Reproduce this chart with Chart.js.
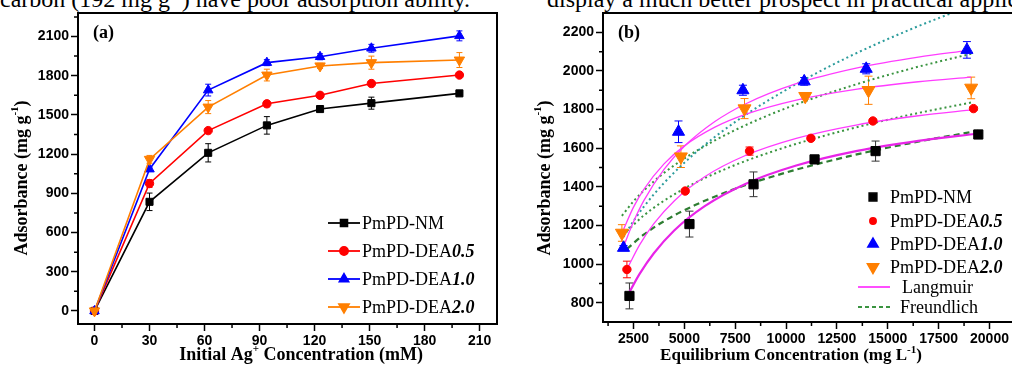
<!DOCTYPE html>
<html>
<head>
<meta charset="utf-8">
<script src="https://cdn.jsdelivr.net/npm/chart.js@4.4.0/dist/chart.umd.min.js"></script>
<style>
html, body { margin: 0; padding: 0; background: #fff; }
body { width: 1012px; height: 367px; overflow: hidden; position: relative; }
.cap { position: absolute; top: -13px; font: 24px "Liberation Serif", serif; line-height: 24px; white-space: nowrap; color: #000; }
.cap sup { font-size: 14px; line-height: 0; }
#wa { position: absolute; left: 0; top: 0; width: 505px; height: 367px; }
#wb { position: absolute; left: 505px; top: 0; width: 540px; height: 367px; }
</style>
</head>
<body>
<div class="cap" style="left:0">carbon (192 mg g<sup>-1</sup>) have poor adsorption ability.</div>
<div class="cap" style="left:547px">display a much better prospect in practical applications.</div>
<div id="wa"><canvas id="chartA" width="505" height="367"></canvas></div>
<div id="wb"><canvas id="chartB" width="540" height="367"></canvas></div>

<script>
// ---- (a) uptake vs initial Ag+ concentration ----
const concA = [0, 30, 62, 94, 123, 151, 199];
const nmA = [0, 835, 1210, 1420, 1545, 1590, 1665];
const dea05A = [0, 975, 1380, 1585, 1650, 1740, 1805];
const dea10A = [0, 1085, 1690, 1900, 1945, 2010, 2105];
const dea20A = [0, 1160, 1560, 1805, 1875, 1900, 1920];
const nmErrA = [0, 67, 70, 67, 15, 46, 10];
const dea05ErrA = [0, 30, 10, 23, 10, 10, 10];
const dea10ErrA = [0, 15, 45, 23, 23, 30, 38];
const dea20ErrA = [0, 30, 50, 45, 20, 50, 57];
const ticksAx = [0, 30, 60, 90, 120, 150, 180, 210];
const ticksAy = [0, 300, 600, 900, 1200, 1500, 1800, 2100];

// ---- (b) isotherms: equilibrium concentration vs uptake ----
const nmCB = [2300, 5250, 8400, 11400, 14400, 19450];
const nmB = [835, 1207, 1413, 1542, 1585, 1671];
const nmErrB = [67, 67, 64, 10, 52, 8];
const dea05CB = [2176, 5041, 8203, 11221, 14269, 19214];
const dea05B = [972, 1378, 1585, 1651, 1741, 1805];
const dea05ErrB = [43, 8, 21, 8, 8, 8];
const dea10CB = [2008, 4712, 7878, 10892, 13940, 18890];
const dea10B = [1084, 1685, 1900, 1946, 2011, 2109];
const dea10ErrB = [12, 56, 26, 20, 26, 43];
const dea20CB = [1930, 4830, 7957, 10941, 14053, 19100];
const dea20B = [1161, 1556, 1805, 1869, 1900, 1912];
const dea20ErrB = [43, 56, 52, 15, 73, 56];

// fitted curves, [C, q]
const langNM = [[2300,855],[2800,949],[3500,1056],[4500,1174],[6000,1300],[8000,1415],[10500,1510],[13500,1586],[16500,1638],[19450,1676]];
const langD05 = [[2250,988],[2800,1099],[3500,1209],[4500,1327],[6000,1452],[8000,1562],[10500,1651],[13500,1721],[16500,1768],[19250,1800]];
const langD10 = [[2000,1088],[2500,1219],[3000,1327],[4000,1490],[5000,1610],[6500,1738],[8000,1829],[10500,1934],[13500,2016],[16500,2072],[18900,2105]];
const langD20 = [[1930,1160],[2500,1295],[3000,1386],[4000,1519],[5000,1612],[6500,1709],[8000,1775],[10500,1849],[13500,1906],[16500,1944],[19100,1968]];
const freuNM = [[2174,1078],[3000,1152],[4000,1222],[5500,1304],[7500,1390],[10000,1474],[13000,1556],[16000,1624],[19450,1690]];
const freuD05 = [[2176,1171],[3000,1251],[4000,1328],[5500,1419],[7500,1513],[10000,1606],[13000,1696],[16000,1771],[19214,1839]];
const freuD10 = [[2008,1140],[2500,1223],[3000,1296],[4000,1420],[5500,1572],[7500,1736],[10000,1902],[13000,2069],[16000,2210],[19000,2335]];
const freuD20 = [[1930,1250],[2500,1325],[3000,1380],[4000,1472],[5500,1580],[7500,1694],[10000,1807],[13000,1916],[16000,2008],[19100,2089]];

const ticksBx = [2500, 5000, 7500, 10000, 12500, 15000, 17500, 20000];
const ticksBy = [800, 1000, 1200, 1400, 1600, 1800, 2000, 2200];

const seriesNames = ['PmPD-NM', 'PmPD-DEA', 'PmPD-DEA', 'PmPD-DEA'];
const seriesSuffix = ['', '0.5', '1.0', '2.0'];

const BLACK = '#000000', RED = '#ff0000', BLUE = '#0000ff', ORANGE = '#ff7f00';
const MAGENTA = '#ff3cff', GREEN = '#3a9440', TEAL = '#2c9c9c', DGREEN = '#2e7d32';
const SERIF = '"Liberation Serif", "Times New Roman", serif';
const SANS = '"Liberation Sans", Arial, sans-serif';
const tickFont = { family: SANS, size: 14, weight: 'bold' };

Chart.defaults.animation = false;

function pts(xs, ys) { return xs.map((x, i) => ({ x: x, y: ys[i] })); }
function pairs(arr) { return arr.map(p => ({ x: p[0], y: p[1] })); }

function drawParts(ctx, parts, x, y, align) {
  let total = 0;
  parts.forEach(p => { ctx.font = p.font; total += ctx.measureText(p.t).width; });
  let cx = align === 'center' ? x - total / 2 : x;
  ctx.textAlign = 'left';
  parts.forEach(p => {
    ctx.font = p.font;
    ctx.fillText(p.t, cx, y + (p.dy || 0));
    cx += ctx.measureText(p.t).width;
  });
}

function axisOpts(min, max, ticks, fitFn) {
  return {
    type: 'linear', min: min, max: max,
    afterBuildTicks: s => { s.ticks = ticks.map(v => ({ value: v })); },
    afterFit: fitFn,
    grid: { drawOnChartArea: false, drawTicks: true, tickLength: 7, tickWidth: 1.5, tickColor: '#000' },
    border: { display: true, color: '#000', width: 2 },
    ticks: { color: '#000', font: tickFont, padding: 2, maxRotation: 0, autoSkip: false, callback: v => String(v) }
  };
}

// frame, minor ticks, error bars, titles and legend
const decorPlugin = {
  id: 'decor',
  beforeDatasetsDraw(chart) {
    const ctx = chart.ctx, xs = chart.scales.x, ys = chart.scales.y;
    ctx.save();
    ctx.beginPath();
    ctx.rect(chart.chartArea.left, chart.chartArea.top, chart.chartArea.width, chart.chartArea.height);
    ctx.clip();
    chart.data.datasets.forEach(ds => {
      if (!ds.err) return;
      ctx.strokeStyle = ds.errColor || ds.borderColor;
      ctx.lineWidth = 1;
      ds.data.forEach((p, i) => {
        const e = ds.err[i];
        if (!e) return;
        const px = xs.getPixelForValue(p.x);
        const y1 = ys.getPixelForValue(p.y - e), y2 = ys.getPixelForValue(p.y + e);
        const cw = ds.capW || 3;
        ctx.beginPath();
        ctx.moveTo(px, y1); ctx.lineTo(px, y2);
        ctx.moveTo(px - cw, y1); ctx.lineTo(px + cw, y1);
        ctx.moveTo(px - cw, y2); ctx.lineTo(px + cw, y2);
        ctx.stroke();
      });
    });
    ctx.restore();
  },
  afterDraw(chart) {
    const ctx = chart.ctx, a = chart.chartArea, xs = chart.scales.x, ys = chart.scales.y;
    const o = chart.options.plugins.decor;
    ctx.save();
    ctx.strokeStyle = '#000';
    ctx.lineWidth = 2;
    ctx.strokeRect(a.left, a.top, a.right - a.left, a.bottom - a.top);

    // minor ticks halfway between majors
    ctx.lineWidth = 1.5;
    const minors = (t, lo, hi) => {
      const st = t[1] - t[0], out = [];
      for (let v = t[0] - st / 2; v < hi; v += st) if (v > lo && v < hi) out.push(v);
      return out;
    };
    ctx.beginPath();
    minors(o.tx, xs.min, xs.max).forEach(v => {
      const px = xs.getPixelForValue(v);
      ctx.moveTo(px, a.bottom); ctx.lineTo(px, a.bottom + 4);
    });
    minors(o.ty, ys.min, ys.max).forEach(v => {
      const py = ys.getPixelForValue(v);
      if (py < a.top + 2 || py > a.bottom - 2) return;
      ctx.moveTo(a.left, py); ctx.lineTo(a.left - 4, py);
    });
    ctx.stroke();

    ctx.fillStyle = '#000';
    ctx.textBaseline = 'middle';
    // panel label
    ctx.font = 'bold 18px ' + SERIF;
    ctx.textAlign = 'left';
    ctx.fillText(o.panel, o.panelX, 33);

    // axis titles
    drawParts(ctx, o.xTitle, o.xTitleX, o.xTitleY, 'center');
    ctx.save();
    ctx.translate(o.yTitleX, o.yTitleY);
    ctx.rotate(-Math.PI / 2);
    drawParts(ctx, o.yTitle, 0, 0, 'center');
    ctx.restore();

    // legend
    o.legend.forEach(r => {
      if (r.line) {
        ctx.save();
        ctx.strokeStyle = r.line.color;
        ctx.lineWidth = r.line.width;
        ctx.setLineDash(r.line.dash || []);
        ctx.beginPath();
        ctx.moveTo(r.lx0, r.y); ctx.lineTo(r.lx1, r.y);
        ctx.stroke();
        ctx.restore();
      }
      if (r.marker) {
        ctx.fillStyle = r.marker.color;
        ctx.strokeStyle = r.marker.color;
        Chart.helpers.drawPoint(ctx, { pointStyle: r.marker.style, radius: r.marker.r, rotation: r.marker.rot || 0, borderWidth: 1 }, r.mx, r.y);
      }
      ctx.fillStyle = '#000';
      ctx.textBaseline = 'middle';
      drawParts(ctx, r.parts, r.tx, r.y + 1, 'left');
    });
    ctx.restore();
  }
};

const legFont = '18px ' + SERIF, legIt = 'italic bold 18px ' + SERIF;
function legParts(i) {
  const p = [{ t: seriesNames[i], font: legFont }];
  if (seriesSuffix[i]) p.push({ t: seriesSuffix[i], font: legIt });
  return p;
}
const tSup = 'bold 11px ' + SERIF;
const yTitle = [{ t: 'Adsorbance (mg g', font: 'bold 18px ' + SERIF }, { t: '-1', font: tSup, dy: -7 }, { t: ')', font: 'bold 18px ' + SERIF }];

// ---------- chart (a) ----------
const colorsA = [BLACK, RED, BLUE, ORANGE];
const stylesA = [['rect', 5, 0], ['circle', 4.2, 0], ['triangle', 5.5, 0], ['triangle', 6, 180]];
const valuesA = [nmA, dea05A, dea10A, dea20A];
const errsA = [nmErrA, dea05ErrA, dea10ErrA, dea20ErrA];

const legendA = [0, 1, 2, 3].map(i => ({
  y: 223 + i * 28, lx0: 328, lx1: 360, mx: 344, tx: 362,
  line: { color: colorsA[i], width: 1.8 },
  marker: { style: stylesA[i][0], r: stylesA[i][1], rot: stylesA[i][2], color: colorsA[i] },
  parts: legParts(i)
}));

new Chart(document.getElementById('chartA'), {
  type: 'scatter',
  data: {
    datasets: valuesA.map((v, i) => ({
      label: seriesNames[i] + seriesSuffix[i],
      data: pts(concA, v), err: errsA[i], capW: 3,
      showLine: true, borderColor: colorsA[i], backgroundColor: colorsA[i], borderWidth: 1.6,
      pointStyle: stylesA[i][0], pointRadius: stylesA[i][1], pointRotation: stylesA[i][2],
      pointBorderWidth: 1, pointBorderColor: colorsA[i], pointBackgroundColor: colorsA[i]
    })).reverse()
  },
  options: {
    responsive: false,
    layout: { padding: { left: 0, top: 13, right: 8, bottom: 0 } },
    scales: {
      x: axisOpts(-9, 219.5, ticksAx, s => { s.height = 43; }),
      y: axisOpts(-100, 2280, ticksAy, s => { s.width = 78; })
    },
    plugins: {
      legend: { display: false }, tooltip: { enabled: false },
      decor: {
        tx: ticksAx, ty: ticksAy, panel: '(a)', panelX: 93,
        xTitle: [{ t: 'Initial Ag', font: 'bold 18px ' + SERIF }, { t: '+', font: tSup, dy: -6 }, { t: ' Concentration (mM)', font: 'bold 18px ' + SERIF }],
        xTitleX: 301, xTitleY: 355,
        yTitle: yTitle, yTitleX: 22, yTitleY: 178,
        legend: legendA
      }
    }
  },
  plugins: [decorPlugin]
});

// ---------- chart (b) ----------
const stylesB = [['rect', 6.5, 0], ['circle', 4.2, 0], ['triangle', 7, 0], ['triangle', 7.5, 180]];
const dataB = [[nmCB, nmB, nmErrB], [dea05CB, dea05B, dea05ErrB], [dea10CB, dea10B, dea10ErrB], [dea20CB, dea20B, dea20ErrB]];
const errColB = ['#333333', RED, BLUE, ORANGE];

const markerSets = dataB.map((d, i) => ({
  label: seriesNames[i] + seriesSuffix[i],
  data: pts(d[0], d[1]), err: d[2], errColor: errColB[i], capW: 4,
  showLine: false, borderColor: colorsA[i], backgroundColor: colorsA[i],
  pointStyle: stylesB[i][0], pointRadius: stylesB[i][1], pointRotation: stylesB[i][2],
  pointBorderWidth: 1, pointBorderColor: colorsA[i], pointBackgroundColor: colorsA[i]
}));

function fitSet(label, arr, color, width, dash) {
  return {
    label: label, data: pairs(arr), showLine: true, pointRadius: 0,
    borderColor: color, borderWidth: width, borderDash: dash,
    cubicInterpolationMode: 'monotone'
  };
}
const fitSets = [
  fitSet('Langmuir NM', langNM, '#e824e8', 2.2, []),
  fitSet('Langmuir 0.5', langD05, MAGENTA, 1.3, []),
  fitSet('Langmuir 1.0', langD10, MAGENTA, 1.3, []),
  fitSet('Langmuir 2.0', langD20, MAGENTA, 1.3, []),
  fitSet('Freundlich NM', freuNM, DGREEN, 2.2, [6, 4]),
  fitSet('Freundlich 0.5', freuD05, GREEN, 2, [2, 3]),
  fitSet('Freundlich 1.0', freuD10, TEAL, 2, [2, 3]),
  fitSet('Freundlich 2.0', freuD20, GREEN, 2, [2, 3])
];

const legendB = [0, 1, 2, 3].map(i => ({
  y: [197, 221, 244, 267][i], mx: 368, tx: 385,
  marker: { style: stylesB[i][0], r: stylesB[i][1] - 1, rot: stylesB[i][2], color: colorsA[i] },
  parts: legParts(i)
})).concat([
  { y: 287, lx0: 353, lx1: 385, tx: 397, line: { color: MAGENTA, width: 1.8 }, parts: [{ t: 'Langmuir', font: legFont }] },
  { y: 307, lx0: 353, lx1: 385, tx: 395, line: { color: GREEN, width: 1.8, dash: [4, 3] }, parts: [{ t: 'Freundlich', font: legFont }] }
]);

new Chart(document.getElementById('chartB'), {
  type: 'scatter',
  data: { datasets: markerSets.concat(fitSets) },
  options: {
    responsive: false,
    layout: { padding: { left: 0, top: 13, right: 25, bottom: 0 } },
    scales: {
      x: axisOpts(1000, 21500, ticksBx, s => { s.height = 45; }),
      y: axisOpts(700, 2300, ticksBy, s => { s.width = 98; })
    },
    plugins: {
      legend: { display: false }, tooltip: { enabled: false },
      decor: {
        tx: ticksBx, ty: ticksBy, panel: '(b)', panelX: 113,
        xTitle: [{ t: 'Equilibrium Concentration (mg L', font: 'bold 17px ' + SERIF }, { t: '-1', font: tSup, dy: -6 }, { t: ')', font: 'bold 17px ' + SERIF }],
        xTitleX: 286, xTitleY: 356,
        yTitle: yTitle, yTitleX: 40, yTitleY: 178,
        legend: legendB
      }
    }
  },
  plugins: [decorPlugin]
});
</script>
</body>
</html>
